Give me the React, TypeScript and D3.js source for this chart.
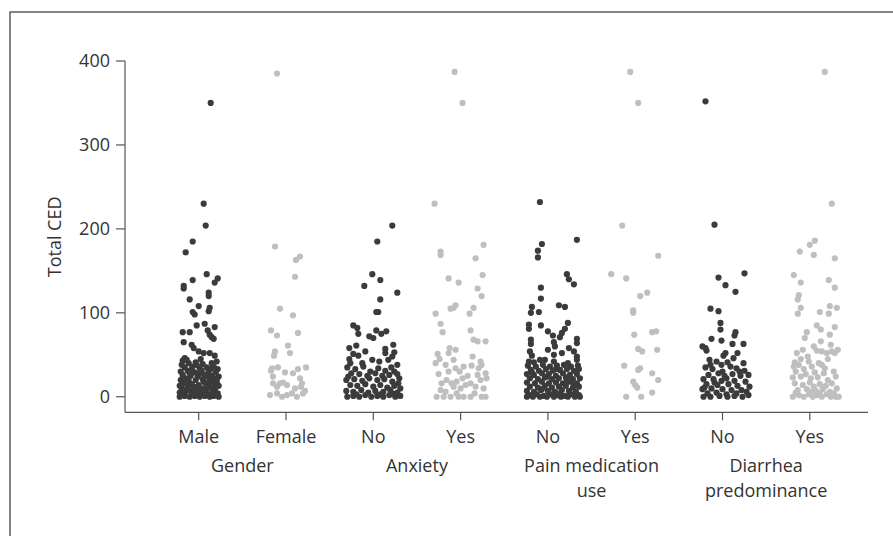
import React from "react";
import * as d3 from "d3";

// ---------- data ----------
const categoryIds = ["g-male", "g-female", "a-no", "a-yes", "p-no", "p-yes", "d-no", "d-yes"];
const categoryLabels = ["Male", "Female", "No", "Yes", "No", "Yes", "No", "Yes"];
const groupLabels = [["Gender"], ["Anxiety"], ["Pain medication", "use"], ["Diarrhea", "predominance"]];
const yTicks = [0, 100, 200, 300, 400];

// [jitter, Total CED] ; jitter in 1/87 of category spacing
const maleData = [
  [12, 350], [5, 230], [7, 204], [-6, 185], [-13, 172], [8, 146], [19, 141], [16, 136], [-6, 139], [-15, 132], [-15, 129],
  [10, 124], [10, 120], [-9, 116], [0, 108], [-6, 101], [-4, 98], [11, 106], [10, 102], [-16, 77], [-9, 77], [-2, 85], [6, 87],
  [16, 83], [9, 79], [11, 74], [15, 69], [13, 71], [-15, 65], [-7, 62], [-5, 58], [0, 54], [5, 52], [11, 52], [16, 49], [-16, 43], [-14, 46],
  [-10, 40], [-3, 41], [4, 39], [13, 40], [18, 42], [-17, 38],
  [-14, 35], [-6, 36], [1, 34], [8, 35], [15, 36], [19, 33],
  [-18, 30], [-11, 31], [-4, 29], [3, 31], [10, 30], [17, 29],
  [-16, 26], [-8, 25], [-1, 24], [6, 26], [13, 25], [20, 24], [-13, 22],
  [-18, 20], [-10, 19], [-3, 20], [4, 21], [11, 19], [18, 20],
  [-15, 16], [-7, 15], [0, 14], [7, 16], [14, 15], [20, 13], [-19, 13],
  [-17, 10], [-11, 11], [-4, 9], [3, 10], [10, 11], [16, 9], [-8, 7],
  [-19, 5], [-13, 6], [-6, 5], [1, 6], [8, 5], [14, 6], [19, 4], [4, 3],
  [-19, 0], [-14, 1], [-9, 0], [-4, 1], [1, 0], [6, 1], [11, 0], [15, 1], [20, 0], [-17, 2], [-1, 2], [9, 3],
  [-12, 44], [2, 45], [-2, 38], [12, 33], [-9, 28], [5, 18], [15, 22], [-5, 12], [12, 13], [-15, 8], [18, 17],
  [-7, 33], [9, 24], [-12, 17], [1, 28], [17, 11], [-2, 7], [-16, 23], [6, 9],
];
const femaleData = [
  [-9, 385], [-11, 179], [14, 167], [10, 163], [9, 143], [-6, 105], [7, 97], [-15, 79], [-9, 73], [12, 76], [-11, 54], [-12, 49],
  [2, 61], [4, 52], [-14, 34], [-15, 31], [-8, 35], [-1, 29], [12, 33], [20, 35], [-13, 24], [-13, 16], [-6, 16], [-3, 17], [1, 14],
  [-9, 12], [14, 22], [16, 16], [9, 10], [-9, 4], [-4, 0], [1, 2], [6, 4], [11, 0], [17, 4], [19, 7], [7, 28], [-16, 2], [15, 12],
];
const anxietyNoData = [
  [19, 204], [4, 185], [-1, 146], [-9, 132], [7, 139], [24, 124], [7, 116], [3, 101], [5, 101], [-20, 85], [-16, 82], [-15, 75],
  [-4, 72], [0, 70], [3, 79], [8, 75], [13, 78], [-24, 58], [-17, 61], [-20, 51], [-15, 49], [-8, 54], [12, 57], [12, 52], [20, 62],
  [21, 53], [19, 48], [-23, 40], [-25, 24], [24, 38], [21, 30], [25, 16],
  [-26, 35], [-18, 33], [-10, 36], [-3, 30], [5, 34], [12, 31], [18, 35], [-22, 28], [-14, 27], [-6, 25], [2, 28], [9, 25], [16, 26], [24, 27],
  [-27, 20], [-19, 21], [-11, 19], [-4, 22], [4, 20], [11, 21], [19, 18], [26, 22],
  [-23, 14], [-16, 13], [-8, 15], [0, 12], [7, 14], [14, 11], [21, 13], [27, 10],
  [-27, 7], [-20, 6], [-12, 8], [-5, 5], [2, 7], [10, 6], [17, 8], [24, 5],
  [-26, 0], [-20, 1], [-14, 0], [-8, 2], [-2, 0], [4, 1], [10, 0], [16, 2], [22, 0], [27, 1], [-17, 3], [7, 3], [19, 4],
  [-11, 40], [6, 42], [-1, 44], [15, 44], [-24, 45],
];
const anxietyYesData = [
  [-6, 387], [2, 350], [-26, 230], [23, 181], [-20, 173], [-20, 169], [15, 165], [22, 145], [-12, 141], [-2, 136], [17, 129], [21, 120],
  [-7, 106], [-10, 105], [-5, 109], [-25, 99], [9, 99], [13, 106], [-20, 87], [-18, 77], [10, 79], [13, 68], [17, 66], [25, 66],
  [-11, 58], [-5, 56], [-12, 52], [-23, 51], [-25, 40], [-15, 38], [-7, 44], [-22, 27], [-5, 34], [3, 36], [11, 37], [20, 42], [21, 38],
  [18, 34], [25, 28], [26, 22], [-19, 16], [-14, 20], [-9, 16], [-4, 18], [0, 10], [5, 14], [10, 16], [15, 12], [20, 20], [23, 10],
  [-24, 0], [-17, 0], [-10, 0], [-4, 4], [-2, 0], [3, 0], [10, 0], [21, 0], [25, 0], [-15, 6], [-7, 12], [-20, 8], [14, 4], [7, 25],
  [-12, 30], [2, 22], [17, 26], [-1, 30], [-21, 45], [12, 48],
];
const painNoData = [
  [-8, 232], [29, 187], [-6, 182], [-10, 174], [-10, 166], [19, 146], [21, 140], [26, 134], [-7, 130], [-7, 117], [-16, 107], [-17, 100],
  [-9, 101], [11, 109], [17, 107], [-19, 86], [-19, 81], [-7, 85], [0, 78], [5, 73], [20, 88], [14, 76], [12, 71], [17, 81], [-17, 68],
  [-17, 63], [6, 65], [7, 60], [29, 69], [29, 64], [14, 52], [21, 58], [26, 54], [29, 48], [29, 44], [-18, 54], [-16, 49], [-19, 42],
  [0, 56], [6, 50], [-3, 44],
  [-20, 37], [-12, 36], [-5, 38], [2, 36], [9, 37], [16, 38], [23, 36], [30, 37],
  [-17, 32], [-9, 31], [-2, 33], [5, 31], [12, 32], [19, 33], [26, 31], [31, 33],
  [-21, 27], [-14, 26], [-6, 28], [1, 27], [8, 25], [15, 28], [22, 26], [29, 27],
  [-18, 22], [-10, 21], [-3, 23], [4, 21], [11, 22], [18, 23], [25, 21], [32, 22],
  [-21, 17], [-13, 16], [-6, 18], [1, 16], [8, 17], [15, 16], [22, 18], [29, 16],
  [-18, 12], [-10, 11], [-3, 13], [4, 11], [11, 12], [18, 13], [25, 11], [31, 12],
  [-21, 7], [-14, 6], [-7, 8], [0, 7], [7, 6], [14, 8], [21, 7], [28, 6],
  [-18, 2], [-11, 3], [-4, 1], [3, 3], [10, 2], [17, 1], [24, 3], [31, 2],
  [-21, 0], [-15, 0], [-8, 0], [-1, 0], [6, 0], [13, 0], [20, 0], [27, 0], [32, 0],
  [-14, 41], [6, 42], [20, 40], [-8, 44],
  [-6, 9], [12, 4], [26, 14], [-16, 29], [8, 33], [19, 20], [-1, 24],
];
const painYesData = [
  [-5, 387], [3, 350], [-13, 204], [23, 168], [-24, 146], [-9, 141], [5, 120], [12, 124], [-2, 103], [-2, 100], [-1, 74], [17, 77],
  [21, 78], [22, 56], [3, 57], [7, 54], [-11, 37], [3, 32], [5, 34], [17, 28], [23, 20], [-2, 18], [0, 14], [2, 11], [17, 5], [-9, 0], [6, 0],
];
const diarrheaNoData = [
  [-17, 352], [-8, 205], [22, 147], [-4, 142], [3, 133], [13, 125], [-12, 105], [-4, 102], [-2, 88], [-2, 80], [13, 77], [12, 73],
  [-11, 69], [-1, 67], [10, 63], [21, 63], [-20, 60], [-17, 58], [-16, 55], [3, 52], [1, 49], [15, 52], [11, 46], [-13, 44],
  [-6, 42], [5, 41], [-1, 38], [8, 36], [-17, 35], [-10, 33], [14, 34], [22, 31], [0, 30], [-4, 28], [10, 27], [-14, 26], [18, 25], [26, 26],
  [-19, 21], [-9, 21], [4, 22], [-1, 19], [12, 19], [23, 18], [-16, 15], [-5, 14], [6, 15], [15, 13], [27, 12], [-20, 9], [-11, 10],
  [0, 9], [9, 8], [19, 8], [24, 6], [-15, 4], [-6, 5], [4, 3], [14, 4], [-19, 0], [-12, 0], [-3, 1], [5, 0], [12, 1], [20, 0], [26, 2],
  [-8, 17], [17, 30], [-12, 38], [2, 25], [21, 40], [-18, 11],
];
const diarrheaYesData = [
  [15, 387], [22, 230], [5, 186], [0, 181], [4, 169], [-10, 173], [25, 165], [-16, 145], [-9, 136], [19, 139], [25, 130], [-11, 121],
  [-12, 116], [-9, 106], [-12, 99], [10, 101], [19, 99], [20, 108], [27, 106], [7, 85], [11, 80], [-3, 77], [-5, 70], [20, 74], [25, 83],
  [11, 66], [21, 62], [4, 60], [7, 55], [12, 54], [17, 52], [22, 54], [25, 52], [28, 56], [-13, 52], [-7, 56], [-15, 41], [-11, 38],
  [-16, 36], [-1, 42], [2, 36], [9, 40], [12, 38], [15, 34], [-6, 33], [-14, 30], [-4, 27], [5, 29], [14, 28], [24, 30], [-17, 23],
  [-9, 24], [1, 22], [8, 23], [18, 20], [26, 24], [-15, 16], [-7, 14], [0, 17], [4, 12], [10, 15], [16, 13], [22, 16], [27, 10],
  [-12, 8], [-3, 9], [6, 7], [13, 9], [20, 6], [-17, 0], [-11, 2], [-6, 0], [-1, 3], [3, 0], [8, 2], [12, 0], [17, 3], [21, 0], [26, 0],
  [-14, 5], [1, 6], [10, 4], [24, 4], [29, 0], [-2, 48], [-9, 45], [18, 45],
];
const seriesData = [maleData, femaleData, anxietyNoData, anxietyYesData, painNoData, painYesData, diarrheaNoData, diarrheaYesData];

// ---------- chart ----------
const W = 893;
const H = 536;
const FONT = "'Open Sans', 'Noto Sans', sans-serif";
const TEXT = "#333";
const AXIS = "#555";
const DARK = "#3b3b3b";
const LIGHT = "#bfbfbf";

export default function App() {
  const x = d3.scalePoint<string>().domain(categoryIds).range([198.7, 809.8]);
  const y = d3.scaleLinear().domain([-18.5, 400]).range([412.3, 61]);
  const unit = x.step() / 87.3;
  const axisX = 125;
  const axisY = y(-18.5);
  const axisRight = 868;
  const fs = 18;

  return (
    <svg width={W} height={H} style={{ position: "absolute", left: 0, top: 0, background: "#fff" }} fontFamily={FONT}>
      <rect x={0} y={0} width={W} height={H} fill="#fff" />
      <rect x={10} y={12} width={W + 20} height={H + 20} fill="none" stroke="#444" strokeWidth={1.3} />

      {/* points */}
      {seriesData.map((pts, i) =>
        pts.map((p, j) => (
          <circle
            key={`${i}-${j}`}
            cx={(x(categoryIds[i]) as number) + p[0] * unit}
            cy={y(p[1])}
            r={3.1}
            fill={i % 2 === 0 ? DARK : LIGHT}
          />
        ))
      )}

      {/* y axis */}
      <line x1={axisX} x2={axisX} y1={y(400)} y2={axisY} stroke={AXIS} strokeWidth={1.2} />
      {yTicks.map((t) => (
        <g key={t}>
          <line x1={axisX - 9} x2={axisX} y1={y(t)} y2={y(t)} stroke={AXIS} strokeWidth={1.2} />
          <text x={axisX - 15} y={y(t)} dy="0.36em" textAnchor="end" fontSize={fs} fill={TEXT}>
            {t}
          </text>
        </g>
      ))}
      <text
        transform={`translate(61,${(y(400) + y(0)) / 2 + 8}) rotate(-90)`}
        textAnchor="middle"
        fontSize={fs}
        fill={TEXT}
      >
        Total CED
      </text>

      {/* x axis */}
      <line x1={axisX} x2={axisRight} y1={axisY} y2={axisY} stroke={AXIS} strokeWidth={1.2} />
      {categoryIds.map((c, i) => (
        <g key={c}>
          <line x1={x(c)} x2={x(c)} y1={axisY} y2={axisY + 8} stroke={AXIS} strokeWidth={1.2} />
          <text x={x(c)} y={443} textAnchor="middle" fontSize={fs} fill={TEXT}>
            {categoryLabels[i]}
          </text>
        </g>
      ))}
      {groupLabels.map((lines, g) => {
        const cx = ((x(categoryIds[g * 2]) as number) + (x(categoryIds[g * 2 + 1]) as number)) / 2;
        return (
          <text key={g} textAnchor="middle" fontSize={fs} fill={TEXT}>
            {lines.map((l, k) => (
              <tspan key={k} x={cx} y={472 + k * 25}>
                {l}
              </tspan>
            ))}
          </text>
        );
      })}
    </svg>
  );
}
